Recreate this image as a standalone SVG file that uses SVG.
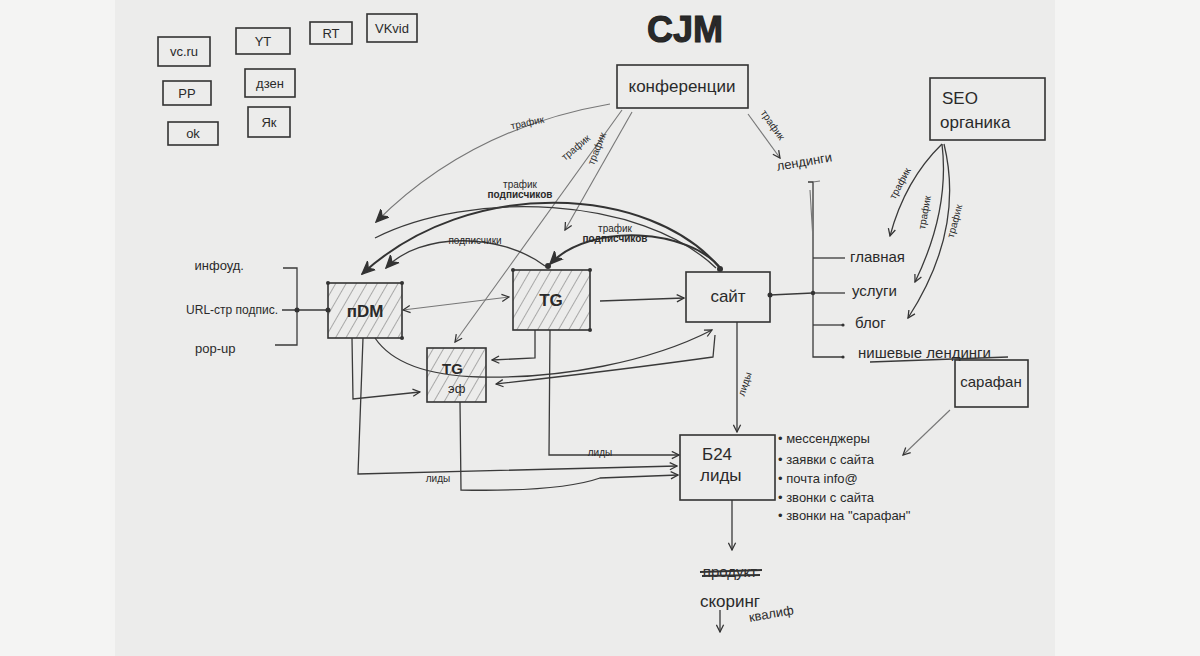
<svg xmlns="http://www.w3.org/2000/svg" width="1200" height="656" viewBox="0 0 1200 656">
<defs>
<marker id="ah" viewBox="0 0 10 10" refX="9" refY="5" markerWidth="9" markerHeight="9" orient="auto-start-reverse" markerUnits="userSpaceOnUse">
<path d="M1,1 L9,5 L1,9" fill="none" stroke="#333" stroke-width="1.4"/>
</marker>
<marker id="ahb" viewBox="0 0 10 10" refX="9" refY="5" markerWidth="14" markerHeight="14" orient="auto" markerUnits="userSpaceOnUse">
<path d="M0,1 L9,5 L0,9 L3,5 Z" fill="#333" stroke="#333" stroke-width="1"/>
</marker>
<pattern id="hatch" width="9" height="9" patternUnits="userSpaceOnUse" patternTransform="rotate(30)">
<line x1="0" y1="0" x2="0" y2="9" stroke="#666" stroke-width="1"/>
</pattern>
</defs>
<style>
.bg{fill:#f4f4f3}
.paper{fill:#ececeb}
.box{fill:none;stroke:#333;stroke-width:1.6}
.hbox{fill:url(#hatch);stroke:#333;stroke-width:1.6}
.ln{fill:none;stroke:#3a3a3a;stroke-width:1.3}
.th{fill:none;stroke:#777;stroke-width:1.1}
.bd{fill:none;stroke:#333;stroke-width:2}
.t{font-family:"Liberation Sans",Arial,sans-serif;fill:#2a2a2a}
.s{font-size:13px}
.m{font-size:15px}
.l{font-size:17px}
.xs{font-size:10px}
.dot{fill:#333}
</style>
<rect class="bg" x="0" y="0" width="1200" height="656"/>
<rect class="paper" x="115" y="0" width="940" height="656"/>

<text class="t" x="685" y="42" font-size="36" font-weight="bold" text-anchor="middle" stroke="#222" stroke-width="1">CJM</text>

<g id="connectors">
<path class="th" d="M610,104 Q470,128 376,222" marker-end="url(#ahb)"/>
<path class="th" d="M622,110 L455,342" marker-end="url(#ah)"/>
<path class="th" d="M632,112 L565,230" marker-end="url(#ah)"/>
<path class="th" d="M748,114 L780,158" marker-end="url(#ah)"/>
<path class="bd" d="M720,268 C650,185 470,175 362,274" marker-end="url(#ahb)"/>
<path class="ln" d="M716,268 C640,195 470,190 375,238"/>
<path class="ln" d="M545,266 C500,232 420,232 386,268" marker-end="url(#ahb)"/>
<path class="bd" d="M722,270 C690,228 590,222 550,264" marker-end="url(#ahb)"/>
<path class="ln" d="M942,144 Q905,180 890,236" marker-end="url(#ah)"/>
<path class="ln" d="M942,144 Q950,210 915,282" marker-end="url(#ah)"/>
<path class="ln" d="M944,144 Q965,230 908,318" marker-end="url(#ah)"/>
<path class="ln" d="M283,268 L297,268 L297,345 L275,345"/>
<path class="ln" d="M282,310 L328,310"/>
<circle class="dot" cx="297" cy="310" r="2.5"/>
<path class="th" d="M403,310 L509,297" marker-start="url(#ah)" marker-end="url(#ah)"/>
<path class="ln" d="M600,301 L684,298" marker-end="url(#ah)"/>
<path class="ln" d="M770,295 L813,293"/>
<circle class="dot" cx="770" cy="295" r="2.5"/>
<path class="ln" d="M808,182 L813,182 L813,357 L843,357"/>
<path class="th" d="M813,182 L820,181"/>
<path class="th" d="M810,190 L813,240"/>
<path class="ln" d="M813,258 L845,258"/>
<path class="ln" d="M813,293 L845,293"/>
<path class="ln" d="M813,325 L843,325"/>
<circle class="dot" cx="813" cy="293" r="2.2"/>
<circle class="dot" cx="843" cy="325" r="1.6"/>
<circle class="dot" cx="843" cy="357" r="1.6"/>
<path class="ln" d="M737,322 L737,432" marker-end="url(#ah)"/>
<path class="ln" d="M535,330 L535,358 L492,360" marker-end="url(#ah)"/>
<path class="ln" d="M375,338 Q400,375 480,377 C560,379 650,362 712,330" marker-end="url(#ah)"/>
<path class="ln" d="M715,335 L713,357 Q620,370 496,384" marker-end="url(#ah)"/>
<path class="ln" d="M352,338 L353,399 L420,392" marker-end="url(#ah)"/>
<path class="ln" d="M363,338 L358,474 L677,466" marker-end="url(#ah)"/>
<path class="ln" d="M460,402 L461,490 Q560,492 600,478 L678,475" marker-end="url(#ah)"/>
<path class="ln" d="M550,330 L549,455 L679,455" marker-end="url(#ah)"/>
<path class="ln" d="M732,500 L732,550" marker-end="url(#ah)"/>
<path class="th" d="M950,410 L903,455" marker-end="url(#ah)"/>
<path class="ln" d="M720,610 L720,632" marker-end="url(#ah)"/>
</g>

<g id="n-vcru"><rect class="box" x="158" y="37" width="52" height="29"/><text class="t s" x="184" y="56" text-anchor="middle">vc.ru</text></g>
<g id="n-yt"><rect class="box" x="236" y="28" width="54" height="26"/><text class="t s" x="263" y="46" text-anchor="middle">YT</text></g>
<g id="n-rt"><rect class="box" x="310" y="22" width="42" height="22"/><text class="t s" x="331" y="38" text-anchor="middle">RT</text></g>
<g id="n-vkvideo"><rect class="box" x="367" y="14" width="50" height="28"/><text class="t s" x="392" y="33" text-anchor="middle">VKvid</text></g>
<g id="n-pp"><rect class="box" x="163" y="81" width="48" height="24"/><text class="t s" x="187" y="98" text-anchor="middle">PP</text></g>
<g id="n-dzen"><rect class="box" x="245" y="69" width="50" height="28"/><text class="t s" x="270" y="88" text-anchor="middle">дзен</text></g>
<g id="n-ok"><rect class="box" x="168" y="122" width="50" height="23"/><text class="t s" x="193" y="138" text-anchor="middle">ok</text></g>
<g id="n-yak"><rect class="box" x="248" y="107" width="42" height="30"/><text class="t s" x="269" y="127" text-anchor="middle">Як</text></g>

<g id="n-conf"><rect class="box" x="617" y="65" width="131" height="43"/><text class="t l" x="682" y="92" text-anchor="middle">конференции</text></g>
<g id="n-seo"><rect class="box" x="930" y="78" width="115" height="62"/><text class="t l" x="942" y="104">SEO</text><text class="t l" x="940" y="128">органика</text></g>

<g id="n-dm"><rect class="hbox" x="328" y="283" width="74" height="55"/><text class="t l" x="365" y="317" text-anchor="middle" font-weight="bold">пDM</text>
<circle class="dot" cx="328" cy="283" r="2"/><circle class="dot" cx="402" cy="283" r="2"/><circle class="dot" cx="402" cy="338" r="2"/><circle class="dot" cx="328" cy="310" r="2.5"/></g>
<g id="n-tg"><rect class="hbox" x="513" y="270" width="77" height="60"/><text class="t l" x="551" y="306" text-anchor="middle" font-weight="bold">TG</text>
<circle class="dot" cx="513" cy="270" r="2"/><circle class="dot" cx="590" cy="270" r="2"/><circle class="dot" cx="590" cy="330" r="2"/><circle class="dot" cx="548" cy="266" r="3"/></g>
<g id="n-tgef"><rect class="hbox" x="427" y="348" width="59" height="54"/><text class="t m" x="442" y="374" font-weight="bold">TG</text><text class="t s" x="448" y="393">эф</text></g>
<g id="n-site"><rect class="box" x="686" y="272" width="84" height="50"/><text class="t l" x="728" y="302" text-anchor="middle">сайт</text><circle class="dot" cx="720" cy="269" r="3"/></g>
<g id="n-b24"><rect class="box" x="680" y="435" width="95" height="65"/><text class="t l" x="702" y="460">Б24</text><text class="t l" x="700" y="481">лиды</text></g>
<g id="n-sarafan"><rect class="box" x="955" y="360" width="73" height="47"/><text class="t m" x="991" y="387" text-anchor="middle">сарафан</text></g>

<g id="labels">
<text class="t s" x="244" y="270" text-anchor="end">инфоуд.</text>
<text class="t" font-size="12" x="278" y="314" text-anchor="end">URL-стр подпис.</text>
<text class="t s" x="195" y="353">pop-up</text>
<text class="t xs" x="528" y="126" transform="rotate(-12 528 126)" text-anchor="middle">трафик</text>
<text class="t xs" x="578" y="150" transform="rotate(-40 578 150)" text-anchor="middle">трафик</text>
<text class="t xs" x="600" y="150" transform="rotate(-68 600 150)" text-anchor="middle">трафик</text>
<text class="t xs" x="770" y="127" transform="rotate(55 770 127)" text-anchor="middle">трафик</text>
<text class="t s" x="805" y="166" transform="rotate(-10 805 166)" text-anchor="middle">лендинги</text>
<text class="t xs" x="520" y="188" text-anchor="middle">трафик</text>
<text class="t xs" x="520" y="198" text-anchor="middle" font-weight="bold">подписчиков</text>
<text class="t xs" x="615" y="232" text-anchor="middle">трафик</text>
<text class="t xs" x="615" y="242" text-anchor="middle" font-weight="bold">подписчиков</text>
<text class="t xs" x="475" y="244" text-anchor="middle">подписчики</text>
<text class="t xs" x="903" y="185" transform="rotate(-62 903 185)" text-anchor="middle">трафик</text>
<text class="t xs" x="928" y="213" transform="rotate(-80 928 213)" text-anchor="middle">трафик</text>
<text class="t xs" x="958" y="222" transform="rotate(-75 958 222)" text-anchor="middle">трафик</text>
<text class="t m" x="850" y="262">главная</text>
<text class="t m" x="852" y="296">услуги</text>
<text class="t m" x="855" y="328">блог</text>
<text class="t m" x="858" y="358">нишевые лендинги</text>
<path class="ln" d="M870,362 L1008,357"/>
<text class="t xs" x="748" y="385" transform="rotate(-72 748 385)" text-anchor="middle">лиды</text>
<text class="t xs" x="600" y="456" text-anchor="middle">лиды</text>
<text class="t xs" x="438" y="482" text-anchor="middle">лиды</text>
<text class="t s" x="778" y="443">• мессенджеры</text>
<text class="t s" x="778" y="464">• заявки с сайта</text>
<text class="t s" x="778" y="483">• почта info@</text>
<text class="t s" x="778" y="502">• звонки с сайта</text>
<text class="t s" x="778" y="520">• звонки на "сарафан"</text>
<text class="t m" x="730" y="577" text-anchor="middle">продукт</text>
<path class="bd" d="M700,572 L762,570 M702,576 L760,575"/>
<text class="t l" x="730" y="607" text-anchor="middle">скоринг</text>
<text class="t s" x="772" y="618" transform="rotate(-10 772 618)" text-anchor="middle">квалиф</text>
</g>
</svg>
